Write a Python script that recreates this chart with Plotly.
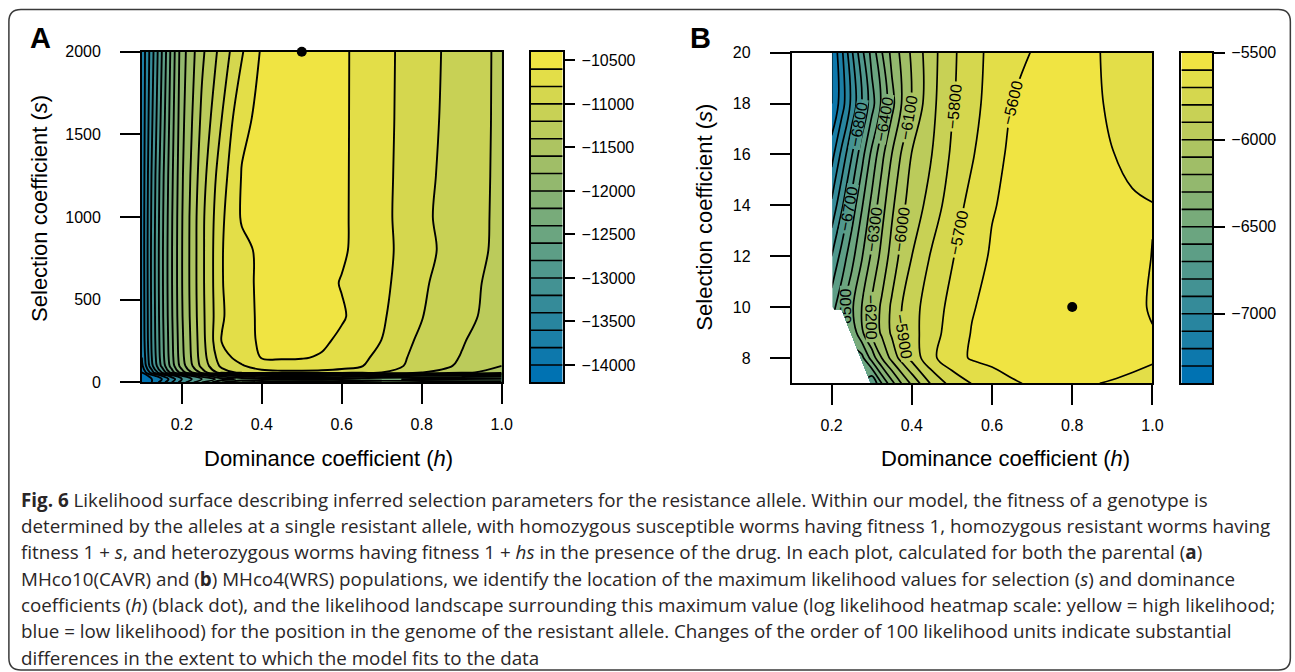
import plotly.graph_objects as go

# ---------------- Panel A data ----------------
h_A = [0.10, 0.125, 0.15, 0.175, 0.20, 0.25, 0.30, 0.35, 0.40, 0.45, 0.50, 0.55, 0.60, 0.65, 0.70, 0.80, 0.90, 1.00]
s_A = [0, 20, 40, 60, 100, 150, 250, 400, 600, 800, 1000, 1250, 1600, 2000]
ll_A = [
    [-14190, -14000, -13700, -13400, -13100, -12600, -12200, -12000, -11950, -11900, -11850, -11850, -11900, -11950, -12000, -12050, -12100, -12150],
    [-14200, -14000, -13800, -13500, -13200, -12800, -12500, -12350, -12300, -12280, -12280, -12300, -12320, -12350, -12380, -12420, -12450, -12480],
    [-14150, -13900, -13600, -13300, -13000, -12500, -12100, -11900, -11800, -11750, -11750, -11760, -11800, -11850, -11900, -12000, -12050, -12100],
    [-14000, -13500, -13000, -12500, -12100, -11500, -11100, -10950, -10870, -10850, -10850, -10860, -10880, -10930, -11000, -11200, -11350, -11500],
    [-13850, -13250, -12750, -12300, -11900, -11340, -10950, -10820, -10700, -10660, -10660, -10680, -10730, -10790, -10880, -11100, -11230, -11400],
    [-13800, -13200, -12700, -12260, -11860, -11300, -10880, -10720, -10590, -10585, -10590, -10615, -10690, -10760, -10860, -11080, -11210, -11350],
    [-13760, -13170, -12680, -12240, -11840, -11280, -10790, -10670, -10570, -10555, -10550, -10570, -10636, -10719, -10803, -11050, -11185, -11330],
    [-13750, -13160, -12660, -12220, -11820, -11260, -10820, -10665, -10565, -10540, -10530, -10550, -10580, -10670, -10774, -10992, -11140, -11290],
    [-13745, -13150, -12650, -12210, -11810, -11250, -10810, -10660, -10560, -10530, -10520, -10545, -10610, -10679, -10749, -10970, -11130, -11270],
    [-13740, -13150, -12650, -12210, -11810, -11250, -10810, -10650, -10560, -10520, -10500, -10530, -10575, -10656, -10740, -10940, -11100, -11250],
    [-13740, -13160, -12660, -12218, -11815, -11252, -10832, -10580, -10540, -10510, -10490, -10520, -10570, -10657, -10743, -10958, -11109, -11240],
    [-13745, -13180, -12680, -12240, -11830, -11290, -10880, -10590, -10545, -10500, -10480, -10510, -10570, -10655, -10742, -10945, -11100, -11240],
    [-13750, -13230, -12740, -12280, -11860, -11360, -11000, -10640, -10560, -10500, -10470, -10500, -10570, -10652, -10740, -10930, -11090, -11240],
    [-13750, -13280, -12800, -12327, -11891, -11442, -11123, -10818, -10575, -10500, -10460, -10500, -10570, -10650, -10740, -10920, -11085, -11240],
]
max_A_h = [0.5]
max_A_s = [2000]
lev_A = dict(start=-14000, end=-10600, size=200)      # contour lines
cb_A_range = [-14200, -10400]                          # extent of the colour key
ticks_cb_A = [-14000, -13500, -13000, -12500, -12000, -11500, -11000, -10500]

# ---------------- Panel B data ----------------
h_B = [0.20, 0.225, 0.25, 0.275, 0.30, 0.325, 0.35, 0.375, 0.40, 0.45, 0.50, 0.55, 0.60, 0.65, 0.70, 0.75, 0.80, 0.85, 0.90, 0.95, 1.00]
s_B = [7, 8, 9, 10, 12, 14, 16, 18, 20]
ll_B = [
    [None, None, None, None, -6700, -6500, -6335, -6195, -6079, -5882, -5764, -5697, -5654, -5610, -5590, -5585, -5588, -5597, -5605, -5615, -5630],
    [None, None, None, -6533, -6360, -6200, -6067, -5958, -5867, -5721, -5638, -5590, -5570, -5560, -5555, -5550, -5550, -5560, -5570, -5580, -5590],
    [None, None, -6475, -6319, -6191, -6080, -5983, -5900, -5838, -5736, -5660, -5595, -5575, -5560, -5550, -5540, -5535, -5545, -5560, -5585, -5597],
    [-6640, -6532, -6418, -6300, -6187, -6080, -5983, -5900, -5838, -5746, -5673, -5607, -5570, -5555, -5545, -5538, -5532, -5540, -5560, -5585, -5606],
    [-6800, -6663, -6535, -6410, -6282, -6170, -6061, -5969, -5900, -5787, -5708, -5637, -5590, -5570, -5560, -5550, -5545, -5550, -5565, -5585, -5601],
    [-6980, -6819, -6662, -6512, -6372, -6240, -6123, -6020, -5962, -5855, -5747, -5669, -5606, -5580, -5565, -5555, -5555, -5565, -5575, -5590, -5598],
    [-7140, -6973, -6807, -6640, -6476, -6329, -6200, -6088, -5995, -5900, -5785, -5710, -5626, -5585, -5565, -5550, -5550, -5570, -5598, -5620, -5630],
    [-7300, -7150, -6973, -6807, -6642, -6482, -6335, -6196, -6093, -5924, -5811, -5731, -5662, -5599, -5575, -5560, -5555, -5585, -5612, -5630, -5640],
    [-7300, -7123, -6917, -6729, -6567, -6406, -6272, -6174, -6083, -5932, -5821, -5733, -5676, -5636, -5596, -5570, -5560, -5590, -5615, -5635, -5650],
]
# left edge of the computed region in B (no values to the left of it)
edge_B_s = [7, 8, 8.2, 9, 10, 20]
edge_B_h = [0.296, 0.26, 0.244, 0.242, 0.202, 0.2]
max_B_h = [0.8]
max_B_s = [10]
lev_B = dict(start=-7300, end=-5600, size=100)
cb_B_range = [-7400, -5500]
ticks_cb_B = [-7000, -6500, -6000, -5500]

x_ticks = [0.2, 0.4, 0.6, 0.8, 1.0]
x_ticktext = ["0.2", "0.4", "0.6", "0.8", "1.0"]
y_ticks_A = [0, 500, 1000, 1500, 2000]
y_ticks_B = [8, 10, 12, 14, 16, 18, 20]

caption_lines = [
    "<b>Fig. 6</b> Likelihood surface describing inferred selection parameters for the resistance allele. Within our model, the fitness of a genotype is",
    "determined by the alleles at a single resistant allele, with homozygous susceptible worms having fitness 1, homozygous resistant worms having",
    "fitness 1 + <i>s</i>, and heterozygous worms having fitness 1 + <i>hs</i> in the presence of the drug. In each plot, calculated for both the parental (<b>a</b>)",
    "MHco10(CAVR) and (<b>b</b>) MHco4(WRS) populations, we identify the location of the maximum likelihood values for selection (<i>s</i>) and dominance",
    "coefficients (<i>h</i>) (black dot), and the likelihood landscape surrounding this maximum value (log likelihood heatmap scale: yellow = high likelihood;",
    "blue = low likelihood) for the position in the genome of the resistant allele. Changes of the order of 100 likelihood units indicate substantial",
    "differences in the extent to which the model fits to the data",
]

# ---------------- layout helpers ----------------
# figure canvas, and the measured placement of the canvas in the final picture
W, H = 1306, 682
SX, OX = 0.992, -0.9
SY, OY = 0.973, 8.4
def px(x):          # picture pixel -> paper fraction
    return ((x - OX) / SX) / W
def py(y):
    return 1 - ((y - OY) / SY) / H

FONT = "Liberation Sans, Arial, Helvetica, sans-serif"
CSCALE = [[0, "#0072B2"], [1, "#F0E442"]]

def minus(v):
    return str(v).replace("-", "\u2212")

fig = go.Figure()

fig.add_trace(go.Contour(
    x=h_A, y=s_A, z=ll_A, xaxis="x", yaxis="y",
    colorscale=CSCALE, showscale=False,
    contours=dict(coloring="fill", showlines=True, **lev_A),
    line=dict(color="black", width=1.9),
    hoverinfo="skip",
))

fig.add_trace(go.Contour(
    x=h_B, y=s_B, z=ll_B, xaxis="x2", yaxis="y2",
    colorscale=CSCALE, showscale=False,
    contours=dict(coloring="fill", showlines=True, showlabels=True,
                  labelfont=dict(family=FONT, size=16, color="black"), **lev_B),
    line=dict(color="black", width=1.7),
    hoverinfo="skip",
))

# white area where B has no values
mask_x = [0.1] + edge_B_h + [0.1]
mask_y = [edge_B_s[0]] + edge_B_s + [edge_B_s[-1]]
fig.add_trace(go.Scatter(x=mask_x, y=mask_y, xaxis="x2", yaxis="y2", mode="lines",
                         fill="toself", fillcolor="white", line=dict(width=0, color="white"),
                         showlegend=False, hoverinfo="skip"))

fig.add_trace(go.Scatter(x=max_A_h, y=max_A_s, xaxis="x", yaxis="y", mode="markers",
                         marker=dict(color="black", size=10), cliponaxis=False, showlegend=False))
fig.add_trace(go.Scatter(x=max_B_h, y=max_B_s, xaxis="x2", yaxis="y2", mode="markers",
                         marker=dict(color="black", size=10), cliponaxis=False, showlegend=False))

# colour keys: one band per contour interval, same colour mapping as the fills
def key_traces(lev, cb_range, xa, ya):
    edges = list(range(cb_range[0], cb_range[1] + 1, lev["size"]))
    centers = [(a + b) / 2 for a, b in zip(edges[:-1], edges[1:])]
    hm = go.Heatmap(x=[0.5], y=centers, z=[[c] for c in centers], xaxis=xa, yaxis=ya,
                    colorscale=CSCALE, zmin=lev["start"] - lev["size"] / 2,
                    zmax=lev["end"] + lev["size"] / 2, showscale=False, hoverinfo="skip")
    lx, ly = [], []
    for e in edges[1:-1]:
        lx += [0, 1, None]
        ly += [e, e, None]
    ln = go.Scatter(x=lx, y=ly, xaxis=xa, yaxis=ya, mode="lines",
                    line=dict(color="black", width=1.6), showlegend=False, hoverinfo="skip")
    return [hm, ln]

for tr in key_traces(lev_A, cb_A_range, "x3", "y3"):
    fig.add_trace(tr)
for tr in key_traces(lev_B, cb_B_range, "x4", "y4"):
    fig.add_trace(tr)

axis_common = dict(showline=True, mirror=True, linecolor="black", linewidth=1.5,
                   ticks="outside", ticklen=20, tickwidth=1.5, tickcolor="black",
                   showgrid=False, zeroline=False,
                   tickfont=dict(family=FONT, size=16, color="black"))
key_x = dict(range=[0, 1], showline=True, mirror=True, linecolor="black", linewidth=1.5,
             showticklabels=False, ticks="", showgrid=False, zeroline=False, fixedrange=True)
key_y = dict(side="right", showline=True, mirror=True, linecolor="black", linewidth=1.5,
             ticks="outside", ticklen=11, tickwidth=1.5, tickcolor="black",
             showgrid=False, zeroline=False, ticklabelstandoff=3,
             tickfont=dict(family=FONT, size=16, color="black"))

fig.update_layout(
    width=W, height=H, margin=dict(l=0, r=0, t=0, b=0),
    paper_bgcolor="white", plot_bgcolor="white", showlegend=False,
    xaxis=dict(domain=[px(141), px(501)], range=[0.1, 1.0], anchor="y",
               tickvals=x_ticks, ticktext=x_ticktext, ticklabelstandoff=7, **axis_common),
    yaxis=dict(domain=[py(382), py(52)], range=[0, 2000], anchor="x",
               tickvals=y_ticks_A, ticklabelstandoff=16, **axis_common),
    xaxis2=dict(domain=[px(791), px(1152)], range=[0.1, 1.0], anchor="y2",
                tickvals=x_ticks, ticktext=x_ticktext, ticklabelstandoff=7, **axis_common),
    yaxis2=dict(domain=[py(383), py(53)], range=[7, 20], anchor="x2",
                tickvals=y_ticks_B, ticklabelstandoff=16, **axis_common),
    xaxis3=dict(domain=[px(530), px(562)], anchor="y3", **key_x),
    yaxis3=dict(domain=[py(382), py(52)], range=cb_A_range, anchor="x3",
                tickvals=ticks_cb_A, ticktext=[minus(v) for v in ticks_cb_A], **key_y),
    xaxis4=dict(domain=[px(1181), px(1212)], anchor="y4", **key_x),
    yaxis4=dict(domain=[py(383), py(53)], range=cb_B_range, anchor="x4",
                tickvals=ticks_cb_B, ticktext=[minus(v) for v in ticks_cb_B], **key_y),
)

ann = []
def add_text(x, y, text, size, **kw):
    d = dict(x=px(x), y=py(y), xref="paper", yref="paper", text=text, showarrow=False,
             xanchor=kw.pop("xanchor", "center"), yanchor=kw.pop("yanchor", "middle"),
             font=dict(family=kw.pop("family", FONT), size=size, color=kw.pop("color", "black")))
    d.update(kw)
    ann.append(d)

add_text(40, 38, "<b>A</b>", 29)
add_text(700, 38, "<b>B</b>", 29)
add_text(328, 458, "Dominance coefficient (<i>h</i>)", 22)
add_text(1005, 458, "Dominance coefficient (<i>h</i>)", 22)
add_text(38, 208, "Selection coefficient (<i>s</i>)", 22, textangle=-90)
add_text(703, 217, "Selection coefficient (<i>s</i>)", 22, textangle=-90)

for i, line in enumerate(caption_lines):
    add_text(18, 499 + 26.3 * i, line, 18.8, xanchor="left",
             family="Open Sans, Liberation Sans, sans-serif", color="#2a2627")
fig.update_layout(annotations=ann)

# rounded frame around the figure
l, r, t, b = px(8), px(1290), py(10), py(669)
rx, ry = px(20) - px(8), py(10) - py(22)
path = (f"M {l+rx},{t} L {r-rx},{t} Q {r},{t} {r},{t-ry} L {r},{b+ry} Q {r},{b} {r-rx},{b} "
        f"L {l+rx},{b} Q {l},{b} {l},{b+ry} L {l},{t-ry} Q {l},{t} {l+rx},{t} Z")
fig.add_shape(type="path", path=path, xref="paper", yref="paper",
              line=dict(color="#3a3a3a", width=1.5), layer="below")

pin = ("var d=document.getElementById('{plot_id}');"
       "d.style.position='fixed';d.style.left='0px';d.style.top='0px';"
       "document.body.style.margin='0px';document.documentElement.style.overflow='hidden';")
fig.write_html("out.html", config={"displayModeBar": False}, post_script=pin)
